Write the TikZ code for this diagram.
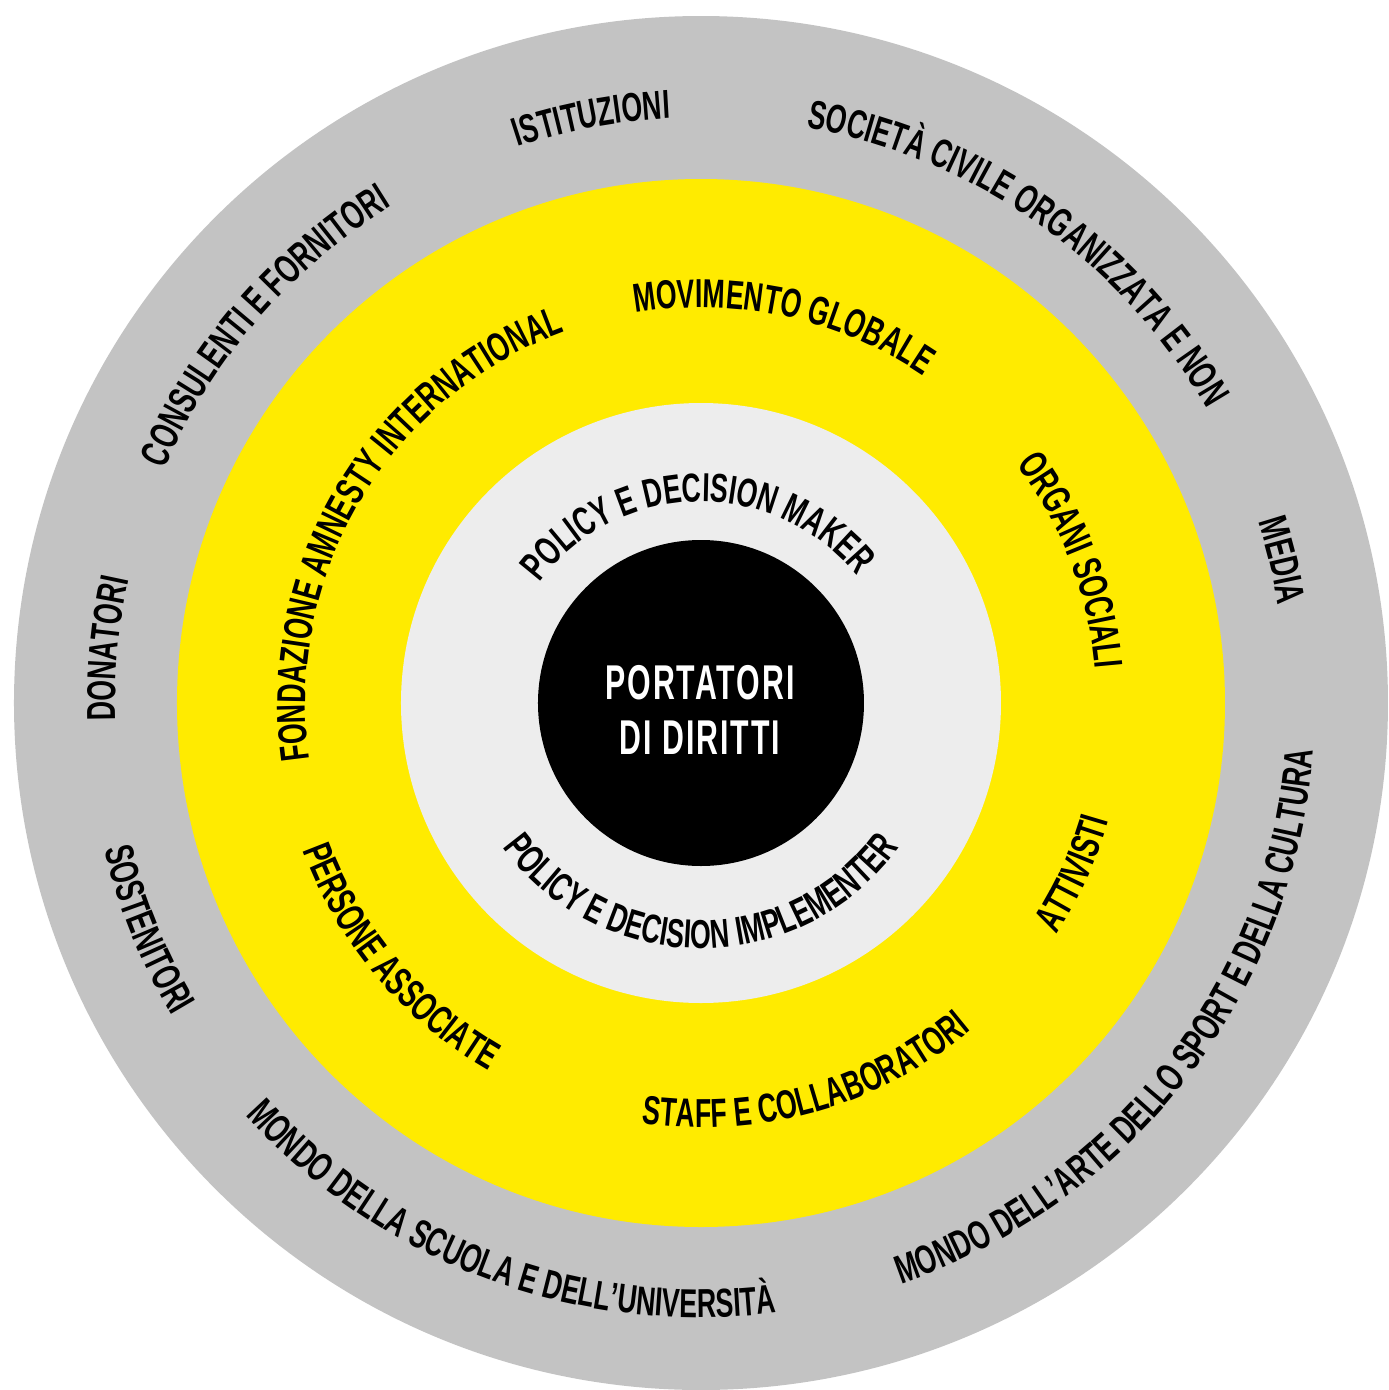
\documentclass[tikz,border=0pt]{standalone}
\usepackage{fontspec}
\newfontfamily\ringfont[FakeStretch=0.66]{Liberation Sans Bold}
\newfontfamily\centrefont[FakeStretch=0.62,LetterSpace=4]{Liberation Sans Bold}
\usetikzlibrary{decorations.text}

\definecolor{outergray}{HTML}{C3C3C3}
\definecolor{ringyellow}{HTML}{FFEB00}
\definecolor{innergray}{HTML}{EDEDED}

% text on the upper side of a ring, read clockwise: radius, mid angle, text
\newcommand{\ringtop}[3]{%
  \path[decorate,decoration={text along path,text align=center,
    text={|\ringfont\fontsize{11.5}{12}\selectfont|#3}}]
    (#2+70:#1-0.145) arc[start angle=#2+70,end angle=#2-70,radius=#1-0.145];}
% text on the lower side of a ring, read counterclockwise
\newcommand{\ringbottom}[3]{%
  \path[decorate,decoration={text along path,text align=center,
    text={|\ringfont\fontsize{11.5}{12}\selectfont|#3}}]
    (#2-70:#1+0.145) arc[start angle=#2-70,end angle=#2+70,radius=#1+0.145];}

\begin{document}
\begin{tikzpicture}
\useasboundingbox (-7.01,-6.87) rectangle (6.88,7.03);
  \fill[outergray] (0,0) circle (6.87);
  \fill[ringyellow] (0,0) circle (5.24);
  \fill[innergray] (0,0) circle (3.00);
  \fill[black] (0,0) circle (1.63);
  \node[align=center,text=white,font=\centrefont\fontsize{13.9}{15.6}\selectfont] (portatori) at (-0.01,-0.07) {PORTATORI\\DI DIRITTI};

  % outer ring
  \ringtop{6.0}{100.6}{ISTITUZIONI}
  \ringtop{6.0}{54.9}{SOCIETÀ CIVILE ORGANIZZATA E NON}
  \ringtop{6.0}{13.8}{MEDIA}
  \ringbottom{6.0}{-37.7}{MONDO DELL’ARTE DELLO SPORT E DELLA CULTURA}
  \ringbottom{6.0}{249.6}{MONDO DELLA SCUOLA E DELL’UNIVERSITÀ}
  \ringbottom{6.0}{202.2}{SOSTENITORI}
  \ringtop{6.0}{174.8}{DONATORI}
  \ringtop{6.0}{139.2}{CONSULENTI E FORNITORI}

  % yellow ring
  \ringtop{4.1}{77.7}{MOVIMENTO GLOBALE}
  \ringtop{4.1}{21}{ORGANI SOCIALI}
  \ringbottom{4.1}{-24.6}{ATTIVISTI}
  \ringbottom{4.1}{-74.2}{STAFF E COLLABORATORI}
  \ringbottom{4.1}{220.1}{PERSONE ASSOCIATE}
  \ringtop{4.1}{149.2}{FONDAZIONE AMNESTY INTERNATIONAL}

  % inner ring
  \ringtop{2.16}{91.2}{POLICY E DECISION MAKER}
  \ringbottom{2.31}{270}{POLICY E DECISION IMPLEMENTER}
\end{tikzpicture}
\end{document}
